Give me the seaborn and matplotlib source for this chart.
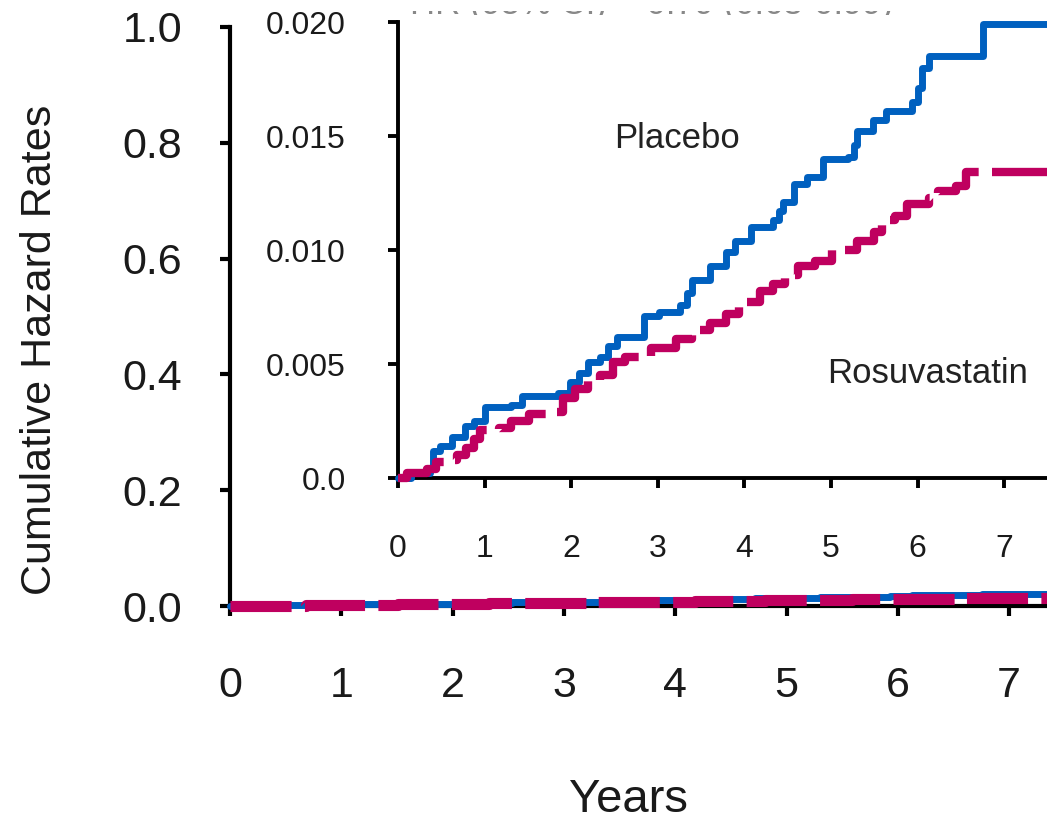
import matplotlib
matplotlib.use("Agg")
import matplotlib.pyplot as plt
from matplotlib.transforms import Bbox, TransformedBbox
import seaborn as sns

# step points (years, cumulative hazard)
placebo_years = [0.0, 0.15, 0.37, 0.40, 0.48, 0.62, 0.77, 0.88, 1.00, 1.31, 1.43,
                 1.85, 1.99, 2.09, 2.19, 2.33, 2.43, 2.53, 2.84, 3.01, 3.26, 3.34,
                 3.40, 3.60, 3.79, 3.89, 4.08, 4.33, 4.40, 4.45, 4.57, 4.72, 4.91,
                 5.20, 5.26, 5.30, 5.49, 5.64, 5.93, 6.00, 6.05, 6.13, 6.76, 7.50]
placebo_rate = [0.0, 0.0002, 0.0004, 0.0012, 0.0014, 0.0018, 0.0023, 0.0025, 0.0031,
                0.0032, 0.0036, 0.00375, 0.0042, 0.0046, 0.0051, 0.0053, 0.0058,
                0.0062, 0.0071, 0.0073, 0.0076, 0.0081, 0.0087, 0.0093, 0.0099,
                0.0104, 0.0110, 0.0113, 0.0117, 0.0121, 0.0129, 0.0132, 0.0140,
                0.0141, 0.0146, 0.0152, 0.0157, 0.0161, 0.0165, 0.0171, 0.0180,
                0.0185, 0.0199, 0.0199]

rosu_years = [0.0, 0.10, 0.34, 0.44, 0.53, 0.68, 0.78, 0.88, 0.95, 1.17, 1.31, 1.51,
              1.80, 1.90, 2.04, 2.19, 2.33, 2.48, 2.62, 2.92, 3.21, 3.40, 3.60, 3.79,
              3.94, 4.18, 4.33, 4.47, 4.62, 4.81, 5.01, 5.30, 5.50, 5.59, 5.74, 5.88,
              6.13, 6.23, 6.44, 6.56, 7.50]
rosu_rate = [0.0, 0.0002, 0.0004, 0.0007, 0.0008, 0.0010, 0.0013, 0.0017, 0.0021,
             0.0022, 0.0025, 0.0028, 0.0029, 0.0035, 0.0039, 0.0043, 0.0045, 0.0051,
             0.0053, 0.0057, 0.0061, 0.0065, 0.0068, 0.0072, 0.0077, 0.0082, 0.0085,
             0.0089, 0.0093, 0.0095, 0.0100, 0.0104, 0.0108, 0.0113, 0.0115, 0.0120,
             0.0123, 0.0126, 0.0128, 0.0134, 0.0134]

main_yticks = [0.0, 0.2, 0.4, 0.6, 0.8, 1.0]
inset_yticks = [0.0, 0.005, 0.010, 0.015, 0.020]
inset_ylabels = ["0.0", "0.005", "0.010", "0.015", "0.020"]
year_ticks = [0, 1, 2, 3, 4, 5, 6, 7]

BLUE = "#0060BF"
MAGENTA = "#BF005F"
W, H = 1047, 823

sns.set_theme(style="white")
plt.rcParams["font.family"] = ["Liberation Sans", "DejaVu Sans"]

fig = plt.figure(figsize=(W / 100, H / 100), dpi=100)


def px_box(left, top, right, bottom):
    return [left / W, 1 - bottom / H, (right - left) / W, (bottom - top) / H]


def draw_curves(ax, lw_blue, lw_mag, dash):
    sns.lineplot(x=placebo_years, y=placebo_rate, ax=ax, color=BLUE,
                 linewidth=lw_blue, drawstyle="steps-post", zorder=3,
                 clip_on=False, errorbar=None, sort=False)
    sns.lineplot(x=rosu_years, y=rosu_rate, ax=ax, color=MAGENTA,
                 linewidth=lw_mag, drawstyle="steps-post", zorder=4,
                 clip_on=False, errorbar=None, sort=False)
    ax.lines[-1].set_dashes(dash)
    ax.lines[-1].set_dash_capstyle("butt")


def style_axes(ax, size, xpad, ypad, lw):
    sns.despine(ax=ax)
    for s in ("left", "bottom"):
        ax.spines[s].set_linewidth(lw)
        ax.spines[s].set_color("black")
        ax.spines[s].set_zorder(2.5)
    ax.tick_params(axis="both", direction="out", length=7.5, width=lw,
                   color="black", labelsize=size, labelcolor="#1a1a1a",
                   bottom=True, left=True)
    ax.tick_params(axis="x", pad=xpad)
    ax.tick_params(axis="y", pad=ypad)
    ax.set_xlabel("")
    ax.set_ylabel("")


# main axes
ax = fig.add_axes(px_box(230, 27, 1047, 606))
ax.set_facecolor("none")
draw_curves(ax, 5, 8, (5.5, 1.2))
ax.set_xlim(0, 817 / 111.3)
ax.set_ylim(0, 1.0)
ax.set_xticks(year_ticks)
ax.set_yticks(main_yticks)
ax.set_yticklabels([f"{v:.1f}" for v in main_yticks])
style_axes(ax, 31, 36, 27, 3)

# inset axes
ins = fig.add_axes(px_box(398, 22, 1047, 478))
ins.set_facecolor("none")
draw_curves(ins, 5, 6, (7.4, 1.6))
ins.set_xlim(0, 649 / 86.6)
ins.set_ylim(0, 0.020)
ins.set_xticks(year_ticks)
ins.set_yticks(inset_yticks)
ins.set_yticklabels(inset_ylabels)
style_axes(ins, 23, 33, 30, 2.8)

ins.text(2.5, 0.0149, "Placebo", fontsize=25, color="#222222",
         ha="left", va="center")
ins.text(4.95, 0.0046, "Rosuvastatin", fontsize=25, color="#222222",
         ha="left", va="center")

fig.text(40 / W, 1 - 350 / H, "Cumulative Hazard Rates", rotation=90,
         fontsize=31, color="#1a1a1a", ha="center", va="center")
fig.text(629 / W, 1 - 800 / H, "Years", fontsize=34, color="#1a1a1a",
         ha="center", va="center")

# header text cropped away at the top of the picture: only the feet of
# the letters are left, so clip it to a thin strip
hdr = fig.text(652 / W, 1 - 14 / H, "HR (95% CI) = 0.79 (0.63-0.99)",
               fontsize=25, color="#888888", ha="center", va="baseline")
strip = Bbox.from_extents(380 / W, 1 - 14.5 / H, 940 / W, 1 - 11 / H)
hdr.set_clip_box(TransformedBbox(strip, fig.transFigure))
hdr.set_clip_on(True)

fig.savefig("out.png", dpi=100)
